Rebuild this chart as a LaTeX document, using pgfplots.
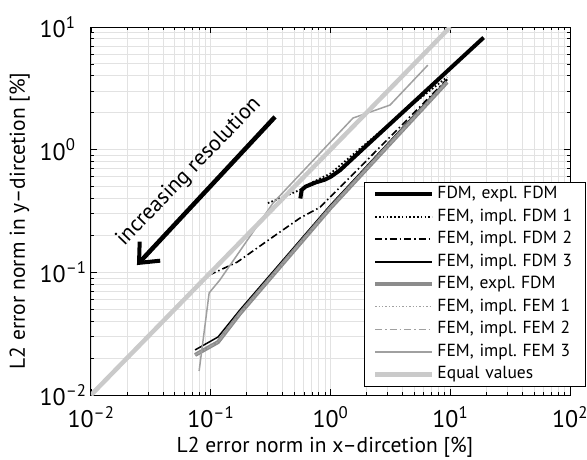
\documentclass[border=0pt]{standalone}
\usepackage{fontspec}
\setmainfont{PT Sans}
\usepackage{pgfplots}
\pgfplotsset{compat=1.18}
\usetikzlibrary{arrows.meta}
\definecolor{gridc}{RGB}{226,226,226}
\definecolor{grayA}{RGB}{140,140,140}
\definecolor{grayB}{RGB}{160,160,160}
\definecolor{grayL}{RGB}{202,202,202}
\frenchspacing
\begin{document}
\begin{tikzpicture}
\begin{axis}[
 name=ax, at={(0,0)}, anchor=south west,
 xmode=log, ymode=log,
 scale only axis, width=479pt, height=368pt,
 xmin=0.01, xmax=100, ymin=0.01, ymax=10,
 xtick={0.01,0.1,1,10,100},
 xticklabels={10\textsuperscript{–2},10\textsuperscript{–1},10\textsuperscript{0},10\textsuperscript{1},10\textsuperscript{2}},
 ytick={0.01,0.1,1,10},
 yticklabels={10\rlap{\textsuperscript{–2}},10\rlap{\textsuperscript{–1}},10\rlap{\textsuperscript{0}},10\rlap{\textsuperscript{1}}},
 tick label style={font=\fontsize{24}{26}\selectfont},
 xticklabel style={inner sep=0pt, yshift=-11pt, anchor=north},
 yticklabel style={inner sep=0pt, xshift=-25pt, anchor=east},
 grid=both,
 major grid style={gridc, line width=0.9pt},
 minor grid style={gridc, line width=0.9pt},
 major tick length=6pt, minor tick length=3.5pt,
 tick style={black, line width=0.8pt},
 axis line style={line width=1pt},
 xlabel={L2 error norm in x–dircetion [\%]},
 ylabel={L2 error norm in y–dircetion [\%]},
 label style={font=\fontsize{21.5}{23}\selectfont},
 xlabel style={at={(axis description cs:0.4885,-0.1549)}, anchor=base},
 ylabel style={at={(axis description cs:-0.1378,0.473)}, anchor=base},
 legend cell align=left,
 legend style={at={(axis description cs:1,0)}, anchor=south east, xshift=16pt, yshift=8pt,
   draw=black, line width=1pt, fill=white, font=\fontsize{17.5}{19}\selectfont,
   inner xsep=8pt, inner ysep=1pt, row sep=0pt, column sep=3pt,
   nodes={text height=12.5pt, text depth=4pt, inner ysep=3pt, inner xsep=0pt, text width=140pt, align=left}},
 legend image code/.code={\draw[#1] (0pt,0pt) -- (57pt,0pt);},
]
\addplot[black, line width=4pt] coordinates {(0.56,0.40) (0.575,0.47) (0.62,0.50) (0.75,0.54) (0.9,0.57) (1.0,0.60) (1.2,0.68) (2,1.08) (5,2.46) (10,4.6) (19,8.2)};
\addlegendentry{FDM, expl. FDM}
\addplot[black, line width=1.8pt, dash pattern=on 1.6pt off 2.2pt] coordinates {(0.30,0.367) (0.4,0.41) (0.556,0.47) (0.7,0.54) (1.0,0.64) (2,1.13) (5,2.4) (9.4,3.9)};
\addlegendentry{FEM, impl. FDM 1}
\addplot[black, line width=1.6pt, dash pattern=on 7pt off 3pt on 1.5pt off 3pt] coordinates {(0.097,0.095) (0.166,0.121) (0.3,0.182) (0.556,0.277) (0.82,0.34) (3.59,1.445) (9.4,3.75)};
\addlegendentry{FEM, impl. FDM 2}
\addplot[black, line width=1.5pt] coordinates {(0.074,0.0233) (0.115,0.0297) (0.175,0.0493) (1.0,0.354) (9.4,3.7)};
\addlegendentry{FEM, impl. FDM 3}
\addplot[grayA, line width=4pt] coordinates {(0.074,0.0212) (0.115,0.027) (0.175,0.046) (1.0,0.335) (9.4,3.55)};
\addlegendentry{FEM, expl. FDM}
\addplot[grayB, line width=1.4pt, dash pattern=on 1.4pt off 2pt] coordinates {(0.074,0.0212) (0.115,0.027) (0.175,0.046) (1.0,0.335) (9.4,3.55)};
\addlegendentry{FEM, impl. FEM 1}
\addplot[grayB, line width=1.4pt, dash pattern=on 7pt off 3pt on 1.5pt off 3pt] coordinates {(0.074,0.0212) (0.115,0.027) (0.175,0.046) (1.0,0.335) (9.4,3.55)};
\addlegendentry{FEM, impl. FEM 2}
\addplot[grayB, line width=1.5pt] coordinates {(0.080,0.0157) (0.097,0.068) (0.119,0.0865) (0.331,0.367) (1.54,1.81) (3.14,2.31) (6.5,4.89)};
\addlegendentry{FEM, impl. FEM 3}
\addplot[grayL, line width=4.5pt] coordinates {(0.01,0.01) (10,10)};
\addlegendentry{Equal values}
\draw[black, line width=4.5pt, -{Straight Barb[length=16pt,width=28pt,line width=4pt]}] (axis cs:0.344,1.85) -- (axis cs:0.0242,0.1146);
\node[rotate=46, font=\fontsize{22}{24}\selectfont, inner sep=0pt] at (axis cs:0.0658,0.657) {increasing resolution};
\end{axis}
\pgfresetboundingbox
\useasboundingbox (ax.south west) ++(-91pt,-64pt) rectangle ++(587pt,459pt);
\end{tikzpicture}
\end{document}
